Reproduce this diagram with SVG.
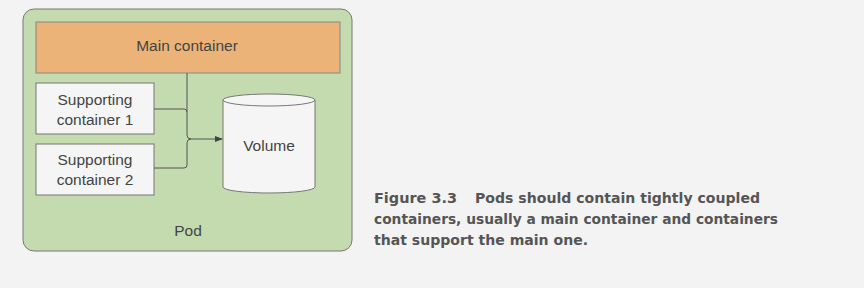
<svg xmlns="http://www.w3.org/2000/svg" width="864" height="288" viewBox="0 0 864 288">
<style>
.lbl{font-family:"Liberation Sans",Arial,sans-serif;font-size:15.5px;fill:#444;text-anchor:middle}
.box{fill:#f5f5f5;stroke:#777;stroke-width:1}
.cap{font-family:"DejaVu Sans","Liberation Sans",sans-serif;font-size:13.5px;font-weight:bold;fill:#555}
.conn{fill:none;stroke:#555;stroke-width:1}
</style>
<defs>
<marker id="arr" markerWidth="8" markerHeight="6" refX="7" refY="3" orient="auto" markerUnits="userSpaceOnUse">
<path d="M0,0 L8,3 L0,6 z" fill="#444"/>
</marker>
</defs>
<rect width="864" height="288" fill="#f3f3f3"/>
<g id="pod">
<rect x="23" y="9" width="329" height="242" rx="11" fill="#c4dbb0" stroke="#777" stroke-width="1"/>
<text class="lbl" x="188" y="236">Pod</text>
</g>
<g id="main">
<rect x="36" y="22" width="304" height="51" fill="#ebb378" stroke="#888" stroke-width="1"/>
<text class="lbl" x="187" y="51">Main container</text>
</g>
<g id="sup1">
<rect class="box" x="36" y="83" width="118" height="51"/>
<text class="lbl" x="95" y="105">Supporting</text>
<text class="lbl" x="95" y="125">container 1</text>
</g>
<g id="sup2">
<rect class="box" x="36" y="144" width="118" height="51"/>
<text class="lbl" x="95" y="165">Supporting</text>
<text class="lbl" x="95" y="185">container 2</text>
</g>
<g id="volume">
<path d="M223,100 L223,187 A46,6 0 0 0 315,187 L315,100" fill="#f5f5f5" stroke="#777" stroke-width="1"/>
<ellipse cx="269" cy="100" rx="46" ry="6" fill="#f5f5f5" stroke="#777" stroke-width="1"/>
<text class="lbl" x="269" y="151">Volume</text>
</g>
<g id="connectors">
<path class="conn" d="M187,73 L187,135 Q187,139 191,139 L222,139" marker-end="url(#arr)"/>
<path class="conn" d="M154,109 L184,109 Q187,109 187,112"/>
<path class="conn" d="M154,168 L184,168 Q187,168 187,165 L187,143 Q187,139 191,139"/>
</g>
<g id="caption">
<text class="cap" x="374" y="203" textLength="83" lengthAdjust="spacingAndGlyphs">Figure 3.3</text>
<text class="cap" x="475" y="203" textLength="285" lengthAdjust="spacingAndGlyphs">Pods should contain tightly coupled</text>
<text class="cap" x="374" y="224" textLength="404" lengthAdjust="spacingAndGlyphs">containers, usually a main container and containers</text>
<text class="cap" x="374" y="245" textLength="214" lengthAdjust="spacingAndGlyphs">that support the main one.</text>
</g>
</svg>
